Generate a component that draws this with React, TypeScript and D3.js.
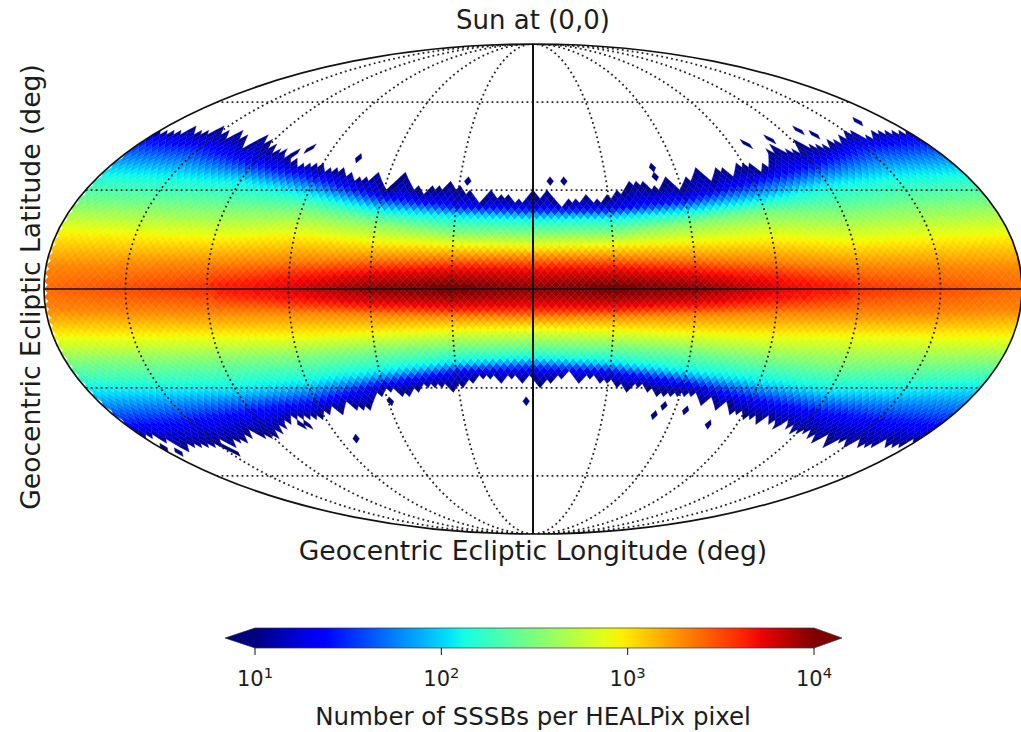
import * as d3 from "d3";

// band edge, [lon, lat] in deg, Sun at centre
const EDGE_NORTH_LONS = [-180, -178, -176, -170.5, -167, -165, -157, -153, -152, -142, -140, -129, -128.6, -125, -116.6, -109, -104.6, -91, -81, -75.6, -71, -68.5, -64.7, -61.6, -57.6, -53, -49.4, -45.3, -37.6, -33.9, -29.5, -24, -19.7, -17.2, -10.3, -4, 0, 2.8, 4.9, 7.9, 11.7, 15.8, 21.5, 27.6, 32, 37.9, 40.6, 50, 55.5, 59.5, 69, 73.6, 78.4, 82, 85.6, 92.6, 95, 101.7, 107.6, 118, 122, 123.8, 135, 152, 157, 166.5, 176, 180];
const EDGE_NORTH = [50, 48.8, 49.2, 48.1, 49.8, 50.5, 48.1, 48.8, 50.5, 47, 49.2, 44, 45.7, 47.4, 43, 42.2, 39, 38, 35.8, 35.4, 33.2, 33.8, 35.4, 32.2, 30, 34.8, 32.2, 29.3, 30.6, 32.2, 30.6, 29, 26, 29.3, 27.6, 26.7, 29, 26.7, 30.6, 26.7, 25, 26.7, 27.6, 26, 29, 30, 32.6, 31, 33.2, 30.6, 36.4, 32.6, 37, 34.8, 37.3, 38, 34.8, 39.7, 43.6, 43, 45.3, 43.6, 44.7, 49.8, 47.4, 49.8, 49.2, 50];
const EDGE_SOUTH_LONS = [-180, -174.5, -171, -169, -165, -161, -151, -146.5, -144, -140, -135.7, -129, -118, -111.6, -105, -93.5, -84.3, -82, -78.5, -73, -66.8, -63.7, -57.8, -51, -45.5, -38.4, -31.5, -25.9, -21, -14.2, -13.3, -9, -4, -0.4, 1.6, 14.6, 17.6, 21.3, 28, 32, 36.4, 44, 48.6, 60, 61.5, 63.8, 70.5, 73.8, 78.4, 81.7, 84.9, 89, 92.4, 97, 99.9, 102.3, 107, 111, 116.5, 126.5, 130.5, 134.6, 142, 143.5, 151, 152.5, 161, 165.5, 172.7, 180];
const EDGE_SOUTH = [46, 46, 47.8, 50.2, 48.8, 49.8, 48.8, 47.8, 50, 47, 47.8, 44.3, 46, 43, 39.7, 39.4, 36.4, 37.7, 35.4, 36.4, 35.4, 32.2, 30.6, 32.2, 30, 29, 30.6, 28, 26.4, 26.7, 29.6, 26.4, 28.3, 26.4, 29, 25.8, 29, 26.4, 28.3, 28, 30.6, 29, 31.3, 32.2, 33.8, 31.6, 34.4, 32.9, 37, 34.4, 38, 37.7, 39.3, 39.3, 41.3, 39.3, 42.7, 41, 44.3, 44.3, 47.8, 45.3, 49.5, 46.4, 50.5, 47.8, 49.5, 47, 49.8, 47];

// latitude (deg) at which the counts reach each level, every 30 deg in longitude
const ISO_LONS = d3.range(-180, 181, 30);
const PEAK = [3.4, 3.5, 3.6, 3.75, 4.0, 4.1, 4.0, 4.1, 4.0, 3.75, 3.6, 3.5, 3.4];
const RED_LEVEL = 3.67;
const RED_NORTH = [0, 0, 0, 3.5, 5.5, 6.4, 6.2, 6.4, 5.5, 3.5, 0, 0, 0];
const RED_SOUTH = [0, 0, 0, 3.2, 5, 5.8, 5.6, 5.8, 5, 3.2, 0, 0, 0];
const LEVELS = [3.31, 2.95, 2.5, 2.05, 1.33];
const ISO_NORTH = [
  [6.5, 7, 7.7, 8.5, 9, 9.3, 9.3, 9.3, 9, 8.2, 6.7, 6.5, 6.5],
  [17, 16, 15, 16, 14, 13, 12.5, 13, 14, 15, 14, 15, 16],
  [26, 25, 24, 23.5, 20, 17, 16.6, 17, 20, 23, 23, 25, 26],
  [36, 35, 33, 29, 24, 22, 21.3, 21.5, 23.5, 27, 32, 35, 36],
  [47, 45, 39, 34.5, 28, 25, 24, 24, 27, 33, 38.5, 45, 47],
];
const ISO_SOUTH = [
  [6, 6.5, 7, 7, 7.5, 8, 8.3, 8, 7.5, 7.2, 7.2, 7, 6],
  [14, 14, 14, 14, 13, 12, 11.6, 12, 13, 13.7, 13.7, 14, 14],
  [22, 22, 21.5, 20.5, 18.5, 17, 16.5, 17, 18.5, 21, 22.8, 22.5, 22],
  [31, 31, 30.5, 28.5, 25, 22, 21, 22, 25, 28, 31, 31, 30],
  [43, 41.5, 38, 35, 29, 25, 24, 25, 28.5, 34, 38, 41, 43],
];

// isolated pixels outside the band [lon, lat]
const STRAYS = [
  [-75.4, 40.4], [-27, 33.2], [-99.6, 43], [-104, 41.4], [8, 33.2], [13, 32.6], [51, 37.4], [51, 33.8],
  [98.5, 45.3], [112, 47], [126, 48.8], [131, 47], [164, 52.5],
  [-82, -46.7], [-59, -34.4], [-2.5, -34.4], [53, -38.7], [54, -35.3], [65, -37], [78, -41],
  [-100.7, -42.7], [-102.5, -41.3], [-178, -50], [-176, -51.7], [-148, -50], [-147, -51.7],
];

const MERIDIANS = [-150, -120, -90, -60, -30, 30, 60, 90, 120, 150];
const PARALLELS = [-60, -30, 30, 60];
const CBAR_TICKS = [10, 100, 1000, 10000];

const NSIDE = 32;
const SQ2 = Math.SQRT2;
const rad = Math.PI / 180;

const xMap = d3.scaleLinear().domain([-2 * SQ2, 2 * SQ2]).range([44, 1022]);
const yMap = d3.scaleLinear().domain([-SQ2, SQ2]).range([534, 44]);

// mollweide, takes radians, does not wrap the longitude
const project = (lam: number, phi: number): [number, number] => {
  let th = phi;
  if (Math.abs(phi) > 1.5707) th = Math.sign(phi) * Math.PI / 2;
  else {
    for (let i = 0; i < 30; i++) {
      const d = (2 * th + Math.sin(2 * th) - Math.PI * Math.sin(phi)) / (2 + 2 * Math.cos(2 * th));
      th -= d;
      if (Math.abs(d) < 1e-7) break;
    }
  }
  return [xMap((2 * SQ2 / Math.PI) * lam * Math.cos(th)), yMap(SQ2 * Math.sin(th))];
};

const jetR = d3.scaleLinear().domain([0, 0.35, 0.66, 0.89, 1]).range([0, 0, 1, 1, 0.5]);
const jetG = d3.scaleLinear().domain([0, 0.125, 0.375, 0.64, 0.91, 1]).range([0, 0, 1, 1, 0, 0]);
const jetB = d3.scaleLinear().domain([0, 0.11, 0.34, 0.65, 1]).range([0.5, 1, 1, 0, 0]);
const jet = (t: number) => d3.rgb(jetR(t) * 255, jetG(t) * 255, jetB(t) * 255).formatHex();

const edgeN = d3.scaleLinear().domain(EDGE_NORTH_LONS).range(EDGE_NORTH);
const edgeS = d3.scaleLinear().domain(EDGE_SOUTH_LONS).range(EDGE_SOUTH);
const peakAt = d3.scaleLinear().domain(ISO_LONS).range(PEAK);
const redN = d3.scaleLinear().domain(ISO_LONS).range(RED_NORTH);
const redS = d3.scaleLinear().domain(ISO_LONS).range(RED_SOUTH);
const isoN = ISO_NORTH.map((r) => d3.scaleLinear().domain(ISO_LONS).range(r));
const isoS = ISO_SOUTH.map((r) => d3.scaleLinear().domain(ISO_LONS).range(r));

// log10 count of a pixel, null when empty
const logCount = (lon: number, lat: number) => {
  const north = lat >= 0;
  const edge = north ? edgeN(lon) : edgeS(lon);
  const a = Math.abs(lat);
  if (a > edge) return null;
  const iso = (north ? isoN : isoS).map((s) => s(lon));
  const red = north ? redN(lon) : redS(lon);
  const hasRed = red > 0.2;
  const prof = d3.scaleLinear()
    .domain([0, ...(hasRed ? [red] : []), ...iso, Math.max(edge, iso[4] + 0.5)])
    .range([peakAt(lon), ...(hasRed ? [RED_LEVEL] : []), ...LEVELS, 1.0]);
  return prof(a);
};

type Pix = { lon: number; lat: number; d: string };

// healpix ring pixels as diamonds in the projected plane
const buildPixels = (): Pix[] => {
  const n = NSIDE;
  const out: Pix[] = [];
  const half = Math.PI / (4 * n);
  const centres: [number, number][] = [];
  for (let i = 1; i < 4 * n; i++) {
    if (i < n || i > 3 * n) {
      const r = i < n ? i : 4 * n - i;
      const z = (1 - (r * r) / (3 * n * n)) * (i < n ? 1 : -1);
      for (let j = 1; j <= 4 * r; j++) centres.push([z, (Math.PI / (2 * r)) * (j - 0.5)]);
    } else {
      const z = 4 / 3 - (2 * i) / (3 * n);
      const s = (i - n + 1) % 2;
      for (let j = 1; j <= 4 * n; j++) centres.push([z, (Math.PI / (2 * n)) * (j - s / 2)]);
    }
  }
  for (const [z, ph] of centres) {
    const az = Math.abs(z);
    let xs = ph;
    let ys = (3 * Math.PI / 8) * z;
    let xc = 0;
    const polar = az > 2 / 3;
    if (polar) {
      const sigma = 2 - Math.sqrt(3 * (1 - az));
      const k = Math.floor(ph / (Math.PI / 2));
      xc = Math.PI / 4 + k * (Math.PI / 2);
      xs = xc + (ph - xc) * (2 - sigma);
      ys = (Math.PI / 4) * sigma * Math.sign(z);
    }
    const corners = [[xs - half, ys], [xs, ys + half], [xs + half, ys], [xs, ys - half]].map(([x, y]) => {
      const ay = Math.abs(y);
      let lam = x;
      let zz = (8 * y) / (3 * Math.PI);
      if (ay > Math.PI / 4) {
        const sg = (4 * ay) / Math.PI;
        const f = Math.max(2 - sg, 1e-6);
        const c = polar ? xc : Math.PI / 4 + Math.floor(x / (Math.PI / 2)) * (Math.PI / 2);
        lam = c + (x - c) / f;
        zz = (1 - (f * f) / 3) * Math.sign(y);
      }
      return project(lam - Math.PI, Math.asin(Math.max(-1, Math.min(1, zz))));
    });
    out.push({
      lon: (ph - Math.PI) / rad,
      lat: Math.asin(z) / rad,
      d: "M" + corners.map((c) => c[0].toFixed(2) + "," + c[1].toFixed(2)).join("L") + "Z",
    });
  }
  return out;
};

const pixels = buildPixels();

const strayIdx = new Set(
  STRAYS.map(([lo, la]) => {
    const [sx, sy] = project(lo * rad, la * rad);
    return d3.leastIndex(pixels, (p) => {
      const [px, py] = project(p.lon * rad, p.lat * rad);
      return (px - sx) ** 2 + (py - sy) ** 2;
    }) as number;
  })
);

const cmapT = d3.scaleLinear().domain([1, 4]).range([0, 1]).clamp(true);

// one path per colour level, 256 like the colormap
const buckets: string[] = d3.range(256).map(() => "");
pixels.forEach((p, i) => {
  let v = logCount(p.lon, p.lat);
  if (v == null && strayIdx.has(i)) v = 1.0;
  if (v == null) return;
  buckets[Math.round(cmapT(v) * 255)] += p.d;
});

const meridianPath = (lon: number) =>
  d3.line()(d3.range(-90, 90.5, 1).map((lat) => project(lon * rad, lat * rad)));
const parallelPath = (lat: number) =>
  d3.line()(d3.range(-180, 180.5, 2).map((lon) => project(lon * rad, lat * rad)));

const cbarX = d3.scaleLog().domain([10, 10000]).range([255, 814]);
const CBAR_TOP = 628;
const CBAR_BOTTOM = 648;

const font = "DejaVu Sans";
const ink = "#1c1c1c";

export default function App() {
  const cx = xMap(0);
  const cy = yMap(0);
  const stops = d3.range(0, 1.0001, 1 / 32);
  const mid = (CBAR_TOP + CBAR_BOTTOM) / 2;
  return (
    <svg
      width={1021}
      height={732}
      style={{ position: "absolute", left: 0, top: 0, background: "#fff" }}
      fontFamily={font}
    >
      <defs>
        <clipPath id="sky">
          <ellipse cx={cx} cy={cy} rx={489} ry={245} />
        </clipPath>
        <linearGradient id="jet" x1="0" x2="1" y1="0" y2="0">
          {stops.map((t) => (
            <stop key={t} offset={t} stopColor={jet(t)} />
          ))}
        </linearGradient>
        <filter id="soft" x="0" y="0" width="1" height="1">
          <feGaussianBlur stdDeviation="0.7" />
        </filter>
      </defs>

      <g clipPath="url(#sky)">
        <g filter="url(#soft)">
          {buckets.map((d, i) =>
            d ? <path key={i} d={d} fill={jet(i / 255)} stroke={jet(i / 255)} strokeWidth={0.4} /> : null
          )}
        </g>
      </g>

      <g fill="none" stroke="#222" strokeWidth={1.8} strokeDasharray="1.8 3.2" clipPath="url(#sky)">
        {MERIDIANS.map((m) => (
          <path key={m} d={meridianPath(m) as string} />
        ))}
        {PARALLELS.map((p) => (
          <path key={p} d={parallelPath(p) as string} />
        ))}
      </g>

      <path d={parallelPath(0) as string} fill="none" stroke="#111" strokeWidth={1.7} />
      <path d={meridianPath(0) as string} fill="none" stroke="#111" strokeWidth={2} />
      <ellipse cx={cx} cy={cy} rx={489} ry={245} fill="none" stroke="#111" strokeWidth={1.7} />

      <text x={533} y={29} textAnchor="middle" fontSize={26} fill={ink}>Sun at (0,0)</text>
      <text x={533} y={560} textAnchor="middle" fontSize={26.6} fill={ink}>Geocentric Ecliptic Longitude (deg)</text>
      <text
        transform="translate(40,287) rotate(-90)"
        textAnchor="middle"
        fontSize={26.6}
        fill={ink}
      >
        Geocentric Ecliptic Latitude (deg)
      </text>

      {/* colorbar */}
      <polygon points={`${cbarX(10)},${CBAR_TOP} 225,${mid} ${cbarX(10)},${CBAR_BOTTOM}`} fill={jet(0)} />
      <polygon points={`${cbarX(10000)},${CBAR_TOP} 842,${mid} ${cbarX(10000)},${CBAR_BOTTOM}`} fill={jet(1)} />
      <rect
        x={cbarX(10)}
        y={CBAR_TOP}
        width={cbarX(10000) - cbarX(10)}
        height={CBAR_BOTTOM - CBAR_TOP}
        fill="url(#jet)"
      />
      <path
        d={`M${cbarX(10)},${CBAR_TOP}L225,${mid}L${cbarX(10)},${CBAR_BOTTOM}L${cbarX(10000)},${CBAR_BOTTOM}L842,${mid}L${cbarX(10000)},${CBAR_TOP}Z`}
        fill="none"
        stroke="#333"
        strokeWidth={0.7}
      />
      {CBAR_TICKS.map((t) => (
        <g key={t} transform={`translate(${cbarX(t)},${CBAR_BOTTOM})`}>
          <line y2={7} stroke="#111" strokeWidth={1} />
          <text y={38} textAnchor="middle" fontSize={21} fill={ink}>
            10
            <tspan dy={-8} fontSize={14.7}>{Math.log10(t)}</tspan>
          </text>
        </g>
      ))}
      <text x={533} y={725} textAnchor="middle" fontSize={24.5} fill={ink}>Number of SSSBs per HEALPix pixel</text>
    </svg>
  );
}
